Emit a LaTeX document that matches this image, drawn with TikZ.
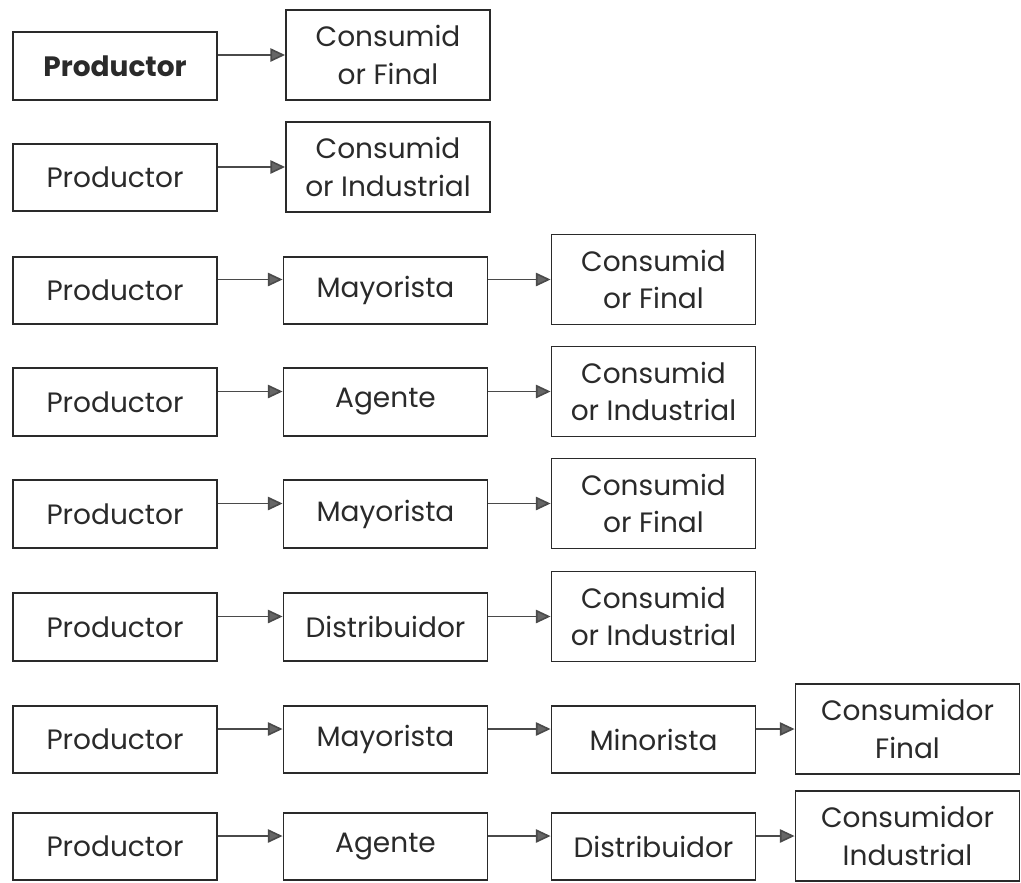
\documentclass[tikz,border=0pt]{standalone}
\usepackage{fontspec}
\setmainfont{Poppins}
\usetikzlibrary{arrows.meta}
\definecolor{ink}{HTML}{2A2A2A}
\definecolor{tipgray}{HTML}{666666}
\tikzset{
  box/.style={draw=ink, line width=1.4pt, inner sep=0pt, align=center,
    font=\fontsize{21}{28}\selectfont, text=ink},
  short/.style={box, minimum width=153pt, minimum height=50.5pt},
  tall/.style={box, minimum width=153pt, minimum height=67.5pt},
  wide/.style={box, minimum width=168pt, minimum height=67.5pt},
  arr/.style={draw=ink!85, line width=1.2pt,
    -{Triangle[length=11pt,width=10pt,fill=tipgray]}},
}
\begin{document}
\begin{tikzpicture}[x=0.75pt,y=-0.75pt]
\useasboundingbox (0,0) rectangle (1021,882);

% row 1
\node[short] (p1) at (115,66) {\bfseries Productor};
\node[tall]  (c1) at (388,55) {Consumid\\or Final};
\draw[arr] (p1.east |- c1.center) -- (c1.west);

% row 2
\node[short] (p2) at (115,177.5) {Productor};
\node[tall]  (c2) at (388,167) {Consumid\\or Industrial};
\draw[arr] (p2.east |- c2.center) -- (c2.west);

% row 3
\node[short] (p3) at (115,290.5) {Productor};
\node[short] (m3) at (385.5,290.5) {Mayorista};
\node[tall]  (c3) at (653.5,279.5) {Consumid\\or Final};
\draw[arr] (p3.east |- c3.center) -- (m3.west |- c3.center);
\draw[arr] (m3.east |- c3.center) -- (c3.west);

% row 4
\node[short] (p4) at (115,402) {Productor};
\node[short] (a4) at (385.5,402) {Agente};
\node[tall]  (c4) at (653.5,391.5) {Consumid\\or Industrial};
\draw[arr] (p4.east |- c4.center) -- (a4.west |- c4.center);
\draw[arr] (a4.east |- c4.center) -- (c4.west);

% row 5
\node[short] (p5) at (115,514) {Productor};
\node[short] (m5) at (385.5,514) {Mayorista};
\node[tall]  (c5) at (653.5,503.5) {Consumid\\or Final};
\draw[arr] (p5.east |- c5.center) -- (m5.west |- c5.center);
\draw[arr] (m5.east |- c5.center) -- (c5.west);

% row 6
\node[short] (p6) at (115,627) {Productor};
\node[short] (d6) at (385.5,627) {Distribuidor};
\node[tall]  (c6) at (653.5,616.5) {Consumid\\or Industrial};
\draw[arr] (p6.east |- c6.center) -- (d6.west |- c6.center);
\draw[arr] (d6.east |- c6.center) -- (c6.west);

% row 7
\node[short] (p7) at (115,739.5) {Productor};
\node[short] (m7) at (385.5,739.5) {Mayorista};
\node[short] (n7) at (653.5,739.5) {Minorista};
\node[wide]  (f7) at (907.5,729) {Consumidor\\Final};
\draw[arr] (p7.east |- f7.center) -- (m7.west |- f7.center);
\draw[arr] (m7.east |- f7.center) -- (n7.west |- f7.center);
\draw[arr] (n7.east |- f7.center) -- (f7.west);

% row 8
\node[short] (p8) at (115,846.5) {Productor};
\node[short] (a8) at (385.5,846.5) {Agente};
\node[short] (d8) at (653.5,846.5) {Distribuidor};
\node[wide]  (i8) at (907.5,836) {Consumidor\\Industrial};
\draw[arr] (p8.east |- i8.center) -- (a8.west |- i8.center);
\draw[arr] (a8.east |- i8.center) -- (d8.west |- i8.center);
\draw[arr] (d8.east |- i8.center) -- (i8.west);
\end{tikzpicture}
\end{document}
